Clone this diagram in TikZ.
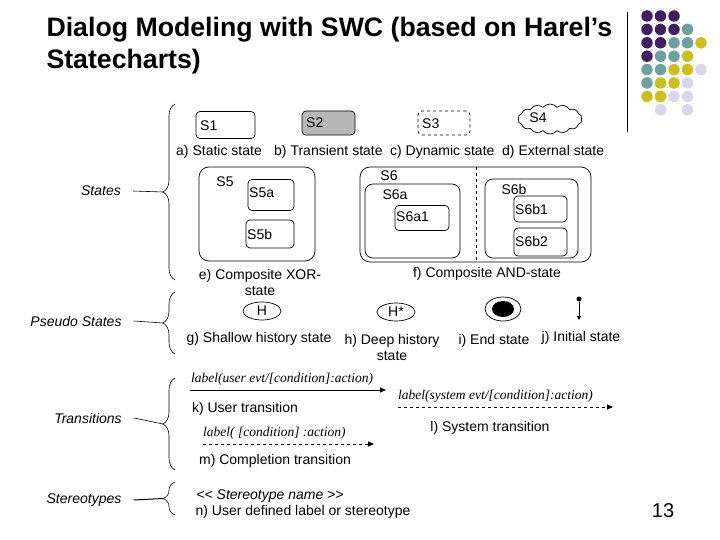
\documentclass[tikz,border=0pt]{standalone}
\usepackage{fontspec}
\setmainfont{Liberation Sans}
\newfontfamily\lserif{Liberation Serif}
\usetikzlibrary{shapes.symbols,shapes.geometric,arrows.meta,decorations.pathreplacing}
\definecolor{cpur}{HTML}{3F1F5F}
\definecolor{cteal}{HTML}{6FA0A0}
\definecolor{cyel}{HTML}{C8C020}
\definecolor{clav}{HTML}{D8D8E8}
\begin{document}
\begin{tikzpicture}[x=1pt,y=-1pt,
  st/.style={draw,rounded corners=4pt,line width=0.7pt},
  txt/.style={font=\fontsize{14}{16}\selectfont,inner sep=0pt},
  lab/.style={font=\fontsize{14}{16}\selectfont\itshape,inner sep=0pt},
  ser/.style={font=\lserif\fontsize{13.5}{15}\selectfont\itshape,inner sep=0pt},
  brc/.style={decorate,decoration={brace,amplitude=12pt},line width=0.6pt},
  dot/.style={circle,inner sep=0pt,minimum size=11.5pt}]
\useasboundingbox (0,0) rectangle (720,540);
% title
\node[anchor=west,font=\fontsize{26.7}{32}\selectfont\bfseries,align=left] (title) at (43,46) {Dialog Modeling with SWC (based on Harel’s\\Statecharts)};
% decoration
\draw[line width=0.8pt] (627,12) -- (627,132);
\foreach \r/\cols in {1/{cpur,cpur,cpur,,},2/{cpur,cpur,cpur,cteal,},3/{cpur,cpur,cteal,cteal,cyel},4/{cpur,cteal,cteal,cyel,},5/{cteal,cteal,cyel,cyel,clav},6/{cteal,cyel,cyel,clav,},7/{cyel,cyel,clav,clav,},8/{,clav,,clav,}}{
  \foreach \c [count=\i] in \cols {
    \ifx\c\empty\else
    \node[dot,fill=\c] (d\r\i) at ({647+13.5*(\i-1)},{16+13.4*(\r-1)}) {};
    \fi
  }
}
% top states
\node[st,minimum width=59pt,minimum height=27pt] (s1) at (225.5,125) {};
\node[txt,anchor=west] (s1t) at (200,126) {S1};
\node[st,fill=black!28,minimum width=53pt,minimum height=24pt] (s2) at (328.5,123) {};
\node[txt,anchor=west] (s2t) at (306,123) {S2};
\node[st,dashed,minimum width=52pt,minimum height=24pt] (s3) at (444,123) {};
\node[txt,anchor=west] (s3t) at (422,124) {S3};
\node[draw,cloud,cloud puffs=14,cloud puff arc=100,aspect=2.4,minimum width=64pt,minimum height=30pt,line width=0.7pt,inner sep=0pt] (s4) at (550,119) {};
\node[txt] (s4t) at (538,118) {S4};
\node[txt,anchor=west] (ca) at (176,152) {a) Static state};
\node[txt,anchor=west] (cb) at (274,152) {b) Transient state};
\node[txt,anchor=west] (cc) at (390,152) {c) Dynamic state};
\node[txt,anchor=west] (cd) at (502,152) {d) External state};
% S5
\draw[st,rounded corners=10pt] (199,167) rectangle (315,261);
\node[txt] (s5) at (225,182) {S5};
\node[st,minimum width=46pt,minimum height=31pt] (s5a) at (271,195) {};
\node[txt,anchor=west] (s5at) at (249,193) {S5a};
\node[st,minimum width=48pt,minimum height=28pt] (s5b) at (270,234) {};
\node[txt,anchor=west] (s5bt) at (247,234) {S5b};
% S6
\draw[st,rounded corners=10pt] (360,167) rectangle (591,262);
\draw[dashed,line width=0.8pt] (476,167) -- (476,262);
\node[txt] (s6) at (389,176) {S6};
\draw[st,rounded corners=8pt] (365,184) rectangle (460,258);
\node[txt] (s6a) at (395,195) {S6a};
\node[st,minimum width=54pt,minimum height=25pt] (s6a1) at (422,218) {};
\node[txt,anchor=west] (s6a1t) at (396,217) {S6a1};
\draw[st,rounded corners=8pt] (485,179) rectangle (578,258);
\node[txt] (s6b) at (514,189) {S6b};
\node[st,minimum width=53pt,minimum height=26pt] (s6b1) at (540.5,209) {};
\node[txt,anchor=west] (s6b1t) at (515,209) {S6b1};
\node[st,minimum width=53pt,minimum height=28pt] (s6b2) at (540.5,242) {};
\node[txt,anchor=west] (s6b2t) at (515,241) {S6b2};
\node[txt,align=center] (ce) at (260,282) {e) Composite XOR-\\state};
\node[txt] (cf) at (487,274) {f) Composite AND-state};
% pseudo states
\node[draw,ellipse,line width=0.7pt,minimum width=38pt,minimum height=18pt,inner sep=0pt] (h) at (262,311) {};
\node[txt] (ht) at (262,311) {H};
\node[draw,ellipse,line width=0.7pt,minimum width=38pt,minimum height=18pt,inner sep=0pt] (hs) at (396,312) {};
\node[txt] (hst) at (396,312) {H*};
\node[draw,ellipse,line width=0.7pt,minimum width=36pt,minimum height=24pt,inner sep=0pt] (end) at (503,309) {};
\node[ellipse,fill=black,minimum width=22pt,minimum height=16pt,inner sep=0pt] (endin) at (503,309) {};
\node[circle,fill=black,inner sep=0pt,minimum size=5pt] (init) at (579,299) {};
\coordinate (inite) at (579,320);
\draw[-{Triangle[length=4pt,width=4pt]},line width=0.8pt] (init) -- (inite);
\node[txt] (cg) at (259,339) {g) Shallow history state};
\node[txt,align=center] (ch) at (392,347) {h) Deep history\\state};
\node[txt] (ci) at (494,341) {i) End state};
\node[txt] (cj) at (581,338) {j) Initial state};
% transitions
\coordinate (k0) at (190,390); \coordinate (k1) at (386,390);
\draw[-{Triangle[length=6pt,width=5pt]},line width=0.8pt] (k0) -- (k1);
\node[ser,anchor=south west] (kl) at (191,386) {label(user evt/[condition]:action)};
\node[txt] (ck) at (245,409) {k) User transition};
\coordinate (m0) at (203,444); \coordinate (m1) at (374,444);
\draw[dashed,-{Triangle[length=6pt,width=5pt]},line width=0.8pt] (m0) -- (m1);
\node[ser,anchor=south west] (ml) at (203,440) {label( [condition] :action)};
\coordinate (l0) at (398,407); \coordinate (l1) at (613,407);
\draw[dashed,-{Triangle[length=6pt,width=5pt]},line width=0.8pt] (l0) -- (l1);
\node[ser,anchor=south west] (ll) at (398,403) {label(system evt/[condition]:action)};
\node[txt] (cl) at (490,428) {l) System transition};
\node[txt] (cm) at (275,461) {m) Completion transition};
% stereotypes
\node[lab] (sn) at (270,496) {{<}{<} Stereotype name {>}{>}};
\node[txt] (cn) at (303,512) {n) User defined label or stereotype};
\node[font=\fontsize{20}{22}\selectfont] (pg) at (663,511) {13};
% braces + labels
\draw[brc] (175,280) -- (175,104);
\draw[brc] (175,354) -- (175,292);
\draw[brc] (175,470) -- (175,378);
\draw[brc] (175,515) -- (175,482);
\node[lab] (lst) at (101,191) {States};
\node[lab] (lps) at (76,321) {Pseudo States};
\node[lab] (ltr) at (88,418) {Transitions};
\node[lab] (lso) at (84,500) {Stereotypes};
\coordinate (b1) at (163,192); \coordinate (b2) at (163,323);
\coordinate (b3) at (163,424); \coordinate (b4) at (163,498.5);
\draw[line width=0.6pt] (lst.east) ++(12,0) -- (b1);
\draw[line width=0.6pt] (lps.east) ++(12,0) -- (b2);
\draw[line width=0.6pt] (ltr.east) ++(12,0) -- (b3);
\draw[line width=1pt] (lso.east) ++(12,0) -- (b4);
\end{tikzpicture}
\end{document}
